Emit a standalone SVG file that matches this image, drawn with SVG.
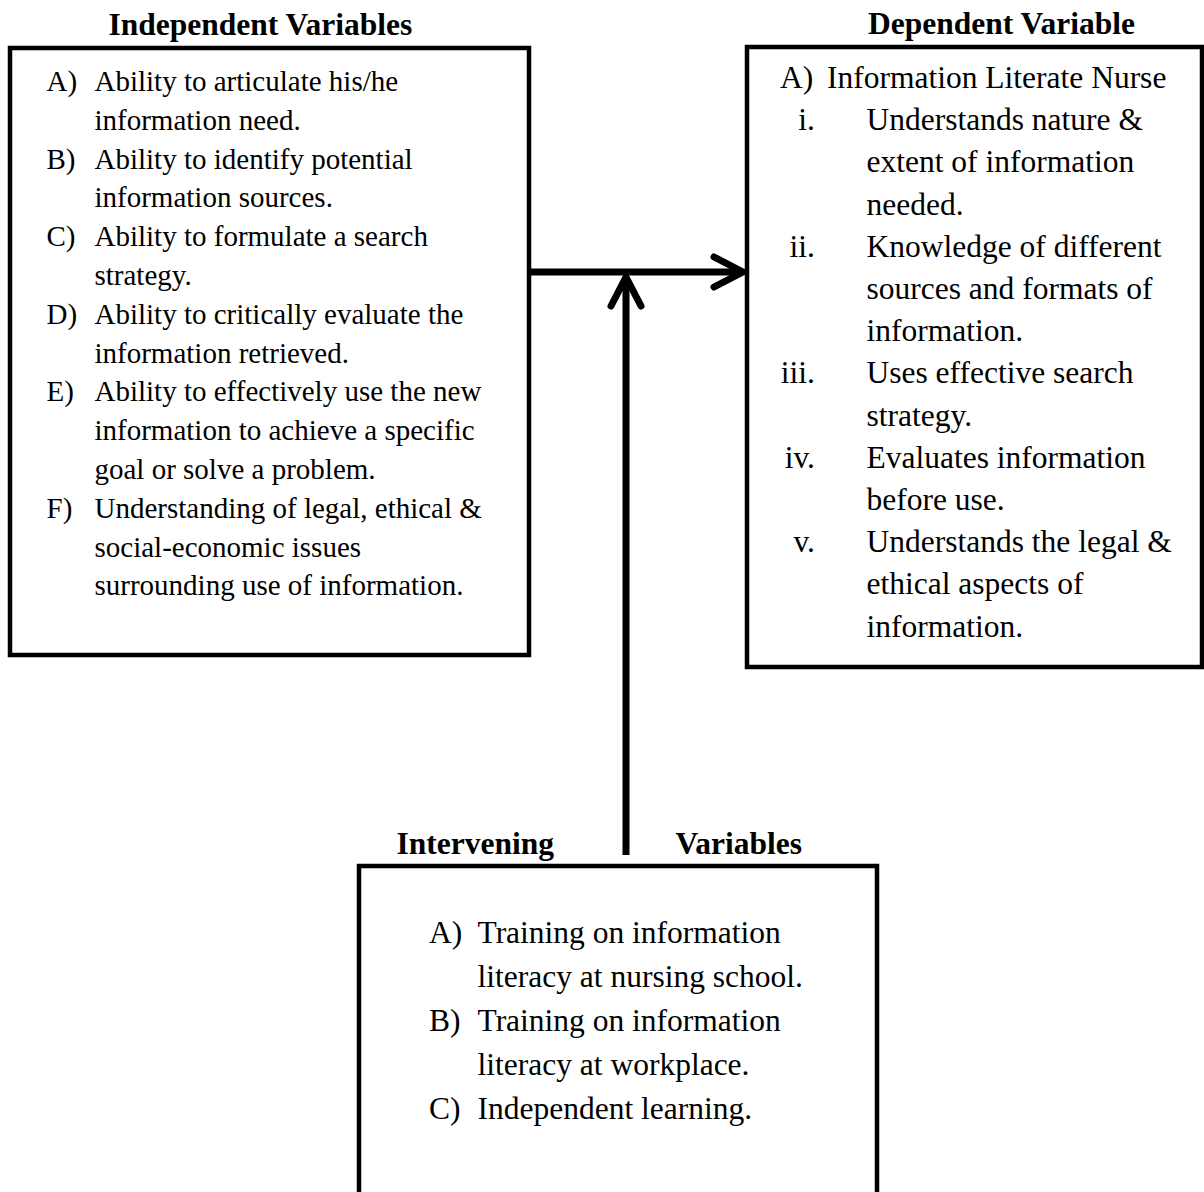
<svg xmlns="http://www.w3.org/2000/svg" width="1204" height="1192" viewBox="0 0 1204 1192">
<style>
.box{fill:#fff;stroke:#000;stroke-width:4.5}
.hd{font-family:"Liberation Serif","Times New Roman",serif;font-weight:bold;font-size:31.5px;fill:#000}
.tl{font-family:"Liberation Serif","Times New Roman",serif;font-size:29px;fill:#000}
.tr{font-family:"Liberation Serif","Times New Roman",serif;font-size:31.5px;fill:#000}
.end{text-anchor:end}
.conn{fill:none;stroke:#000;stroke-width:7}
</style>
<defs>
<marker id="chev" markerUnits="userSpaceOnUse" viewBox="-40 -20 44 40" refX="0" refY="0" markerWidth="44" markerHeight="40" orient="auto" overflow="visible">
<path d="M-29,-15 L0,0 L-29,15" fill="none" stroke="#000" stroke-width="7" stroke-linecap="round" stroke-linejoin="round"/>
</marker>
</defs>
<rect width="1204" height="1192" fill="#fff"/>

<g id="independent">
<text class="hd" x="108.5" y="34.5">Independent Variables</text>
<rect class="box" x="10" y="48" width="519" height="607"/>
<g class="tl">
<text x="46.5" y="91">A)</text><text x="94.5" y="91">Ability to articulate his/he</text>
<text x="94.5" y="129.8">information need.</text>
<text x="46.5" y="168.6">B)</text><text x="94.5" y="168.6">Ability to identify potential</text>
<text x="94.5" y="207.4">information sources.</text>
<text x="46.5" y="246.2">C)</text><text x="94.5" y="246.2">Ability to formulate a search</text>
<text x="94.5" y="285">strategy.</text>
<text x="46.5" y="323.8">D)</text><text x="94.5" y="323.8">Ability to critically evaluate the</text>
<text x="94.5" y="362.6">information retrieved.</text>
<text x="46.5" y="401.4">E)</text><text x="94.5" y="401.4">Ability to effectively use the new</text>
<text x="94.5" y="440.2">information to achieve a specific</text>
<text x="94.5" y="479">goal or solve a problem.</text>
<text x="46.5" y="517.8">F)</text><text x="94.5" y="517.8">Understanding of legal, ethical &amp;</text>
<text x="94.5" y="556.6">social-economic issues</text>
<text x="94.5" y="595.4">surrounding use of information.</text>
</g>
</g>

<g id="dependent">
<text class="hd" x="868" y="33.5">Dependent Variable</text>
<rect class="box" x="747" y="47" width="455" height="620"/>
<g class="tr">
<text x="780" y="88">A)</text><text x="827" y="88">Information Literate Nurse</text>
<text class="end" x="815" y="130.2">i.</text><text x="866.5" y="130.2">Understands nature &amp;</text>
<text x="866.5" y="172.4">extent of information</text>
<text x="866.5" y="214.6">needed.</text>
<text class="end" x="815" y="256.8">ii.</text><text x="866.5" y="256.8">Knowledge of different</text>
<text x="866.5" y="299">sources and formats of</text>
<text x="866.5" y="341.2">information.</text>
<text class="end" x="815" y="383.4">iii.</text><text x="866.5" y="383.4">Uses effective search</text>
<text x="866.5" y="425.6">strategy.</text>
<text class="end" x="815" y="467.8">iv.</text><text x="866.5" y="467.8">Evaluates information</text>
<text x="866.5" y="510">before use.</text>
<text class="end" x="815" y="552.2">v.</text><text x="866.5" y="552.2">Understands the legal &amp;</text>
<text x="866.5" y="594.4">ethical aspects of</text>
<text x="866.5" y="636.6">information.</text>
</g>
</g>

<g id="intervening">
<text class="hd" x="396.5" y="854">Intervening</text>
<text class="hd" x="675.5" y="854">Variables</text>
<rect class="box" x="359" y="866" width="518" height="340"/>
<g class="tr">
<text x="429" y="943">A)</text><text x="477.5" y="943">Training on information</text>
<text x="477.5" y="987">literacy at nursing school.</text>
<text x="429" y="1031">B)</text><text x="477.5" y="1031">Training on information</text>
<text x="477.5" y="1075">literacy at workplace.</text>
<text x="429" y="1119">C)</text><text x="477.5" y="1119">Independent learning.</text>
</g>
</g>

<g id="connectors">
<path class="conn" d="M531,272 L743,272" marker-end="url(#chev)"/>
<path class="conn" d="M626,855 L626,277" marker-end="url(#chev)"/>
</g>
</svg>
